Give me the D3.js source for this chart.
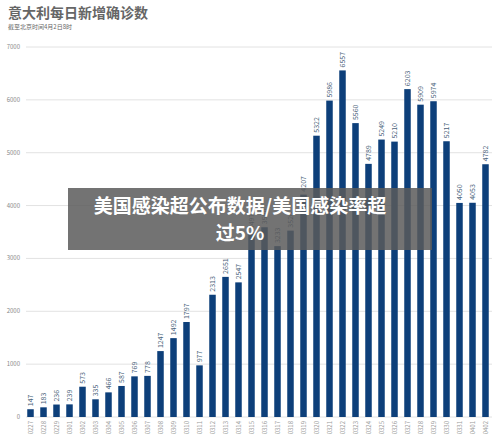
<!DOCTYPE html>
<html><head><meta charset="utf-8">
<script src="https://cdn.jsdelivr.net/npm/d3@7"></script>
<style>body{margin:0;background:#fff;font-family:"Noto Sans CJK SC","Noto Sans",sans-serif}</style>
</head><body>
<script>
const dates = ['0227','0228','0229','0301','0302','0303','0304','0305','0306','0307','0308','0309','0310','0311','0312','0313','0314','0315','0316','0317','0318','0319','0320','0321','0322','0323','0324','0325','0326','0327','0328','0329','0330','0331','0401','0402'];
const cases = [147,183,236,239,573,335,466,587,769,778,1247,1492,1797,977,2313,2651,2547,3497,3590,3233,3526,4207,5322,5986,6557,5560,4789,5249,5210,6203,5909,5974,5217,4050,4053,4782];
const yTicks = [0,1000,2000,3000,4000,5000,6000,7000];

const W = 500, H = 442;
const svg = d3.select('body').append('svg').attr('width', W).attr('height', H);

svg.append('text').attr('x', 8).attr('y', 18).attr('font-size', 14).attr('font-weight', 'bold')
    .attr('fill', '#666').text('意大利每日新增确诊数');
svg.append('text').attr('x', 8).attr('y', 29).attr('font-size', 6).attr('fill', '#666')
    .text('截至北京时间4月2日8时');

const x = d3.scaleBand().domain(dates).range([24, 492]).paddingInner(0.5).paddingOuter(0.25);
const y = d3.scaleLinear().domain([0, 7000]).range([417, 47]);

// grid
svg.append('g').selectAll('line').data(yTicks).join('line')
    .attr('x1', 26).attr('x2', 492)
    .attr('y1', d => y(d)).attr('y2', d => y(d))
    .attr('stroke', '#e2e2e2').attr('stroke-width', 1);
svg.append('g').selectAll('text').data(yTicks).join('text')
    .attr('x', 20).attr('y', d => y(d) + 2).attr('text-anchor', 'end')
    .attr('font-size', 6).attr('fill', '#888').text(d => d);

// bars
svg.append('g').selectAll('rect').data(cases).join('rect')
    .attr('x', (d, i) => x(dates[i])).attr('width', x.bandwidth())
    .attr('y', d => y(d)).attr('height', d => y(0) - y(d))
    .attr('fill', '#0d3f7a');

// value labels
svg.append('g').selectAll('text').data(cases).join('text')
    .attr('transform', (d, i) => `translate(${x(dates[i]) + x.bandwidth() / 2 + 2.5},${y(d) - 3}) rotate(-90)`)
    .attr('font-size', 7).attr('fill', '#4a5f7a').text(d => d);

// date labels
svg.append('g').selectAll('text').data(dates).join('text')
    .attr('transform', d => `translate(${x(d) + x.bandwidth() / 2 + 2},${421}) rotate(-90)`)
    .attr('text-anchor', 'end').attr('font-size', 6).attr('fill', '#999').text(d => d);

// overlay banner
svg.append('rect').attr('x', 68).attr('y', 188).attr('width', 364).attr('height', 62)
    .attr('fill', '#5a5a5a').attr('opacity', 0.85);
svg.append('text').attr('x', 240).attr('y', 213).attr('text-anchor', 'middle')
    .attr('font-size', 19).attr('font-weight', 'bold').attr('fill', '#fff')
    .text('美国感染超公布数据/美国感染率超');
svg.append('text').attr('x', 240).attr('y', 240).attr('text-anchor', 'middle')
    .attr('font-size', 19).attr('font-weight', 'bold').attr('fill', '#fff')
    .text('过5%');
</script>
</body></html>
